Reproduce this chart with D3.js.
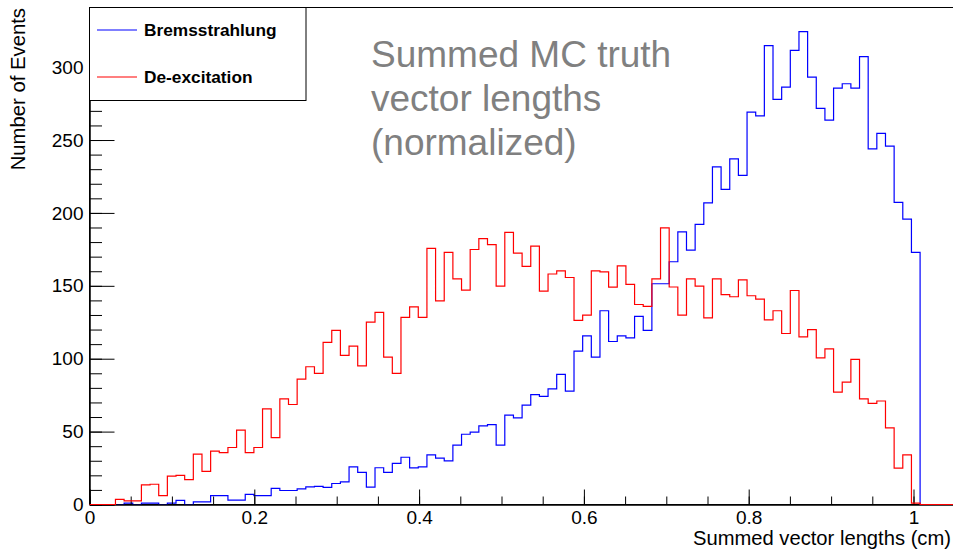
<!DOCTYPE html>
<html>
<head>
<meta charset="utf-8">
<script src="https://cdn.jsdelivr.net/npm/d3@7"></script>
<style>
  body { margin: 0; background: #fff; }
  svg { display: block; font-family: "Liberation Sans", Arial, sans-serif; }
</style>
</head>
<body>
<svg id="chart" width="953" height="552"></svg>
<script>
// Histogram binning: 100 bins from 0 to 1.05
const xMin = 0, xMax = 1.05, nBins = 100;

// Bin contents (bins 0..99)
const bremsCounts = [
  0, 0, 0, 0, 1, 0, 1, 1, 0, 1,
  2.8, 0, 1.8, 1.8, 6.1, 6.1, 3, 3, 6.9, 6.1,
  6.1, 11, 9.6, 9.6, 10.7, 12.1, 12.5, 11.7, 14.4, 15.5,
  25.8, 22, 11.9, 25.2, 22.1, 28.2, 32.4, 25.1, 25.8, 34.1,
  31.8, 29.9, 40.7, 48.2, 49.6, 53.9, 54.8, 40.7, 61.3, 59.4,
  68.2, 75.3, 74.1, 79.3, 89.2, 77.8, 105.2, 115.7, 101.1, 132.9,
  111.8, 115.7, 114.3, 129, 119.4, 151.4, 151.4, 166.5, 187, 174.5,
  192.1, 206.9, 231.6, 216.1, 237.1, 225.8, 269.1, 266.5, 314.7, 277.9,
  286.3, 311.5, 324.3, 293.1, 271.7, 263.7, 285.6, 288.6, 285.6, 307.2,
  243.9, 254.5, 245.8, 207.2, 195.7, 172.9, 0, 0, 0, 0
];
const deexCounts = [
  0, 0, 0, 3.5, 2.5, 2.5, 13.4, 13.9, 6.1, 19.4,
  20, 17.1, 34.6, 22.7, 36.6, 35.6, 39.1, 51, 35.6, 39.1,
  65.6, 45.9, 72.5, 68.6, 86, 94.5, 89.9, 111.2, 119.4, 102.3,
  108.7, 95.1, 125.1, 131.8, 101.1, 89.9, 128.3, 135.6, 128.3, 175.7,
  139.7, 172.9, 154.8, 147, 174.9, 182.3, 178.3, 149.8, 186.7, 172.4,
  163.3, 177.2, 146.3, 158.1, 160.3, 155.7, 126.3, 129.9, 160.3, 159.6,
  149.1, 163.7, 151, 137.2, 135.9, 154.8, 189.7, 149.2, 129.9, 154.8,
  149.8, 128, 154.8, 144, 142.5, 154.1, 143.2, 140.9, 126.7, 132.9,
  117.3, 146.8, 115, 120, 100.6, 106.8, 77.1, 83.9, 99.5, 72.4,
  69.4, 71, 52.6, 24.9, 34.1, 1, 0, 0, 0, 0
];

// Axis ticks
const xMajorTicks = [0, 0.2, 0.4, 0.6, 0.8, 1.0];
const xMinorTicks = d3.range(0, 1.0501, 0.05);
const yMajorTicks = [0, 50, 100, 150, 200, 250, 300];
const yMinorTicks = d3.range(0, 341, 10);
const yMax = 340.9;

const legendItems = [
  { label: "Bremsstrahlung", color: "#0000ff" },
  { label: "De-excitation", color: "#ff0000" }
];
const titleLines = ["Summed MC truth", "vector lengths", "(normalized)"];

const svg = d3.select("#chart");
const frameL = 89.5, frameR = 954.7, frameT = 7.5, frameB = 504.5;

const x = d3.scaleLinear().domain([xMin, xMax]).range([frameL, frameR]);
const y = d3.scaleLinear().domain([0, yMax]).range([frameB, frameT]);
const binW = (xMax - xMin) / nBins;

// ROOT-style step outline
function histPath(counts) {
  const pts = [[xMin, 0]];
  counts.forEach((v, i) => {
    const lo = xMin + i * binW, hi = lo + binW;
    pts.push([lo, v], [hi, v]);
  });
  pts.push([xMax, 0]);
  return d3.line().x(d => x(d[0])).y(d => y(d[1]))(pts);
}

// frame
svg.append("rect")
  .attr("x", frameL).attr("y", frameT)
  .attr("width", frameR - frameL).attr("height", frameB - frameT)
  .attr("fill", "none").attr("stroke", "#000").attr("stroke-width", 1);

// blue histogram first, below the axes
svg.append("path")
  .attr("d", histPath(bremsCounts))
  .attr("fill", "none").attr("stroke", "#0000ff").attr("stroke-width", 1.2);

// axes
svg.append("g").attr("transform", `translate(0,${frameB})`)
  .call(d3.axisBottom(x).tickValues(xMajorTicks).tickSize(-15).tickPadding(6)
    .tickFormat(d => d === 0 ? "0" : d === 1 ? "1" : d3.format(".1f")(d)));
svg.append("g").attr("transform", `translate(0,${frameB})`)
  .call(d3.axisBottom(x).tickValues(xMinorTicks).tickSize(-8).tickFormat(""));
svg.append("g").attr("transform", `translate(${frameL},0)`)
  .call(d3.axisLeft(y).tickValues(yMajorTicks).tickSize(-25).tickPadding(6));
svg.append("g").attr("transform", `translate(${frameL},0)`)
  .call(d3.axisLeft(y).tickValues(yMinorTicks).tickSize(-12.5).tickFormat(""));

svg.selectAll(".domain").attr("stroke", "#000");
svg.selectAll(".tick line").attr("stroke", "#000");
svg.selectAll(".tick text").attr("font-size", 19).attr("fill", "#000")
  .attr("font-family", "Liberation Sans, Arial, sans-serif");

// red histogram on top
svg.append("path")
  .attr("d", histPath(deexCounts))
  .attr("fill", "none").attr("stroke", "#ff0000").attr("stroke-width", 1.2);

// axis titles
svg.append("text")
  .attr("x", 951).attr("y", 545)
  .attr("text-anchor", "end").attr("font-size", 20.2)
  .text("Summed vector lengths (cm)");
svg.append("text")
  .attr("transform", "translate(25,8) rotate(-90)")
  .attr("text-anchor", "end").attr("font-size", 20.3)
  .text("Number of Events");

// legend
const leg = svg.append("g");
leg.append("rect")
  .attr("x", frameL).attr("y", frameT).attr("width", 306 - frameL).attr("height", 100.5 - frameT)
  .attr("fill", "#fff").attr("stroke", "#000").attr("stroke-width", 1);
legendItems.forEach((d, i) => {
  const cy = 30 + i * 47;
  leg.append("line")
    .attr("x1", 97).attr("x2", 137).attr("y1", cy).attr("y2", cy)
    .attr("stroke", d.color).attr("stroke-width", 1.2);
  leg.append("text")
    .attr("x", 144).attr("y", cy + 6)
    .attr("font-size", 17.3).attr("font-weight", "bold")
    .text(d.label);
});

// big grey annotation
svg.append("text")
  .attr("x", 371).attr("font-size", 37).attr("fill", "#808080")
  .selectAll("tspan").data(titleLines).join("tspan")
  .attr("x", 371).attr("y", (d, i) => 67 + i * 44)
  .text(d => d);
</script>
</body>
</html>
